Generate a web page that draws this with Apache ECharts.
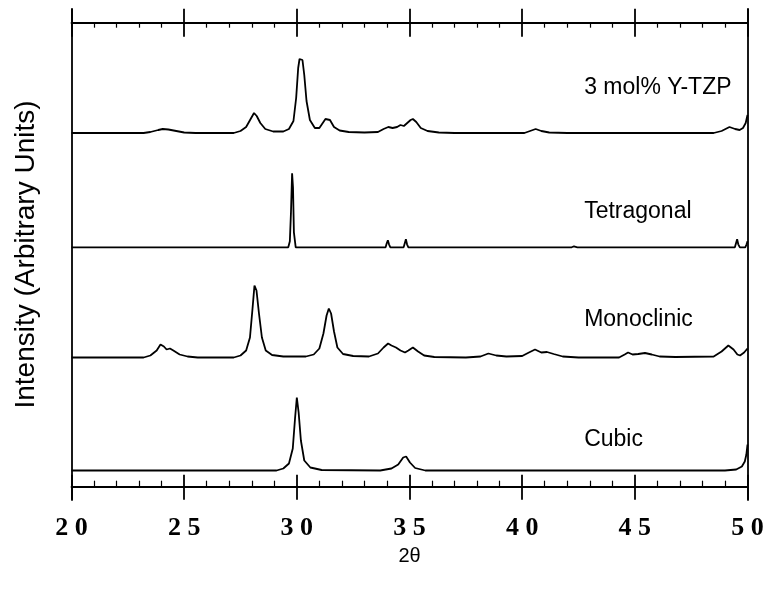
<!DOCTYPE html>
<html><head><meta charset="utf-8">
<script src="https://cdn.jsdelivr.net/npm/echarts@6/dist/echarts.min.js"></script>
<style>html,body{margin:0;padding:0;background:#fff}#c{width:767px;height:590px}</style>
</head><body><div id="c"></div>
<script>
const xMin = 20, xMax = 50, xStep = 5;
const seriesNames = ['3 mol% Y-TZP', 'Tetragonal', 'Monoclinic', 'Cubic'];
// vertical offsets (baselines) of the stacked patterns, arbitrary units
const offsets = [367, 252.7, 142.5, 29.5];
// label anchor [2theta, height above baseline]
const labelAnchors = [[42.75, 45], [42.75, 35], [42.75, 37], [42.75, 30]];

// [2theta, intensity above baseline]
const ytzp = [[20,0],[23.2,0],[23.5,1],[23.85,3],[24.05,4],[24.3,3.5],[24.65,2],[25.0,0.5],[25.5,0],[27.2,0],[27.5,2],[27.75,6],[27.95,14],[28.1,20],[28.22,17],[28.38,10],[28.6,4],[28.95,1.5],[29.4,1.5],[29.65,4],[29.85,12],[29.97,35],[30.06,65],[30.12,74],[30.18,72],[30.25,73],[30.33,58],[30.43,32],[30.58,13],[30.8,5],[31.0,5],[31.15,10],[31.27,14],[31.35,15],[31.47,13],[31.65,6],[31.9,2.5],[32.3,1],[33.0,0.5],[33.6,1],[33.85,4],[34.06,6],[34.25,5],[34.45,6],[34.6,8],[34.75,7],[34.9,10],[35.05,13],[35.15,14],[35.3,11],[35.5,5],[35.8,2],[36.3,0.5],[37,0],[40.1,0],[40.35,2],[40.6,4],[40.85,2],[41.2,0.5],[42,0],[48.5,0],[48.85,2],[49.2,6],[49.45,4],[49.65,3],[49.8,5],[49.92,10],[50,18]];
const tetragonal = [[20,0],[29.62,0],[29.69,6],[29.74,35],[29.79,74],[29.83,60],[29.87,15],[29.95,0],[33.94,0],[33.99,4],[34.04,7],[34.09,3],[34.15,0],[34.74,0],[34.79,4],[34.84,8],[34.89,3],[34.95,0],[42.2,0],[42.3,1],[42.45,0],[49.44,0],[49.49,4],[49.54,8],[49.59,3],[49.66,0],[49.9,0],[49.96,3],[50,6]];
const monoclinic = [[20,0],[23.2,0],[23.5,2],[23.78,7],[23.95,13],[24.1,11],[24.22,8],[24.37,9],[24.52,7],[24.8,3],[25.15,1],[25.6,0],[27.2,0],[27.5,2],[27.75,7],[27.92,20],[28.03,48],[28.12,72],[28.21,67],[28.32,44],[28.45,20],[28.62,7],[28.9,2.5],[29.4,1],[30.4,1],[30.75,3],[31.0,9],[31.18,24],[31.32,42],[31.42,49],[31.52,44],[31.65,26],[31.8,10],[32.05,3.5],[32.5,1.5],[33.2,1],[33.6,4],[33.85,10],[34.05,14],[34.2,12],[34.4,10],[34.6,7],[34.8,5],[34.95,7],[35.15,10],[35.38,6],[35.65,2],[36.1,0.5],[37.5,0],[38.15,1],[38.5,4],[38.85,2],[39.3,1],[40.0,1.5],[40.3,5],[40.57,8],[40.85,5],[41.1,5.5],[41.4,3.5],[41.8,1],[42.5,0],[44.3,0],[44.55,3],[44.7,5],[44.9,3],[45.15,3.5],[45.45,4.5],[45.75,3],[46.1,1],[46.8,0.5],[48.5,1],[48.85,6],[49.15,12],[49.38,8],[49.55,3],[49.67,2],[49.85,5],[50,9]];
const cubic = [[20,0],[29.1,0],[29.4,2],[29.65,7],[29.82,22],[29.92,52],[30.0,73],[30.08,58],[30.18,30],[30.33,10],[30.6,3],[31.1,0.5],[33.7,0],[34.2,2],[34.5,6],[34.72,13],[34.85,14],[35.02,8],[35.25,2.5],[35.7,0],[49.0,0],[49.5,1],[49.75,4],[49.88,9],[49.95,16],[50,26]];
const patterns = [ytzp, tetragonal, monoclinic, cubic];

const chart = echarts.init(document.getElementById('c'), null, {renderer: 'canvas'});
const black = '#000';
const lineW = 1.8;
const baseX = {type: 'value', min: xMin, max: xMax, interval: xStep, splitLine: {show: false}, axisLabel: {show: false}, axisLine: {show: false, onZero: false}};
const sans = 'Liberation Sans, Arial, sans-serif';

const option = {
  animation: false,
  backgroundColor: '#fff',
  grid: {left: 71.5, right: 19.5, top: 9, bottom: 90},
  xAxis: [
    Object.assign({}, baseX, {
      position: 'bottom', offset: -13.3,
      axisLine: {show: true, onZero: false, lineStyle: {color: black, width: lineW}},
      axisTick: {show: true, inside: false, length: 13, lineStyle: {color: black, width: lineW}},
      axisLabel: {show: true, margin: 29, color: black, fontFamily: 'Liberation Serif, Times New Roman, serif', fontWeight: 'bold', fontSize: 26,
        formatter: v => String(v).split('').join(' ')},
      name: '2θ', nameLocation: 'middle', nameGap: 55,
      nameTextStyle: {color: black, fontFamily: sans, fontSize: 20}
    }),
    Object.assign({}, baseX, {
      position: 'bottom', offset: -13.3,
      axisTick: {show: true, inside: true, length: 12, lineStyle: {color: black, width: lineW}},
      minorTick: {show: true, splitNumber: 5, length: 6, lineStyle: {color: black, width: 1.2}}
    }),
    Object.assign({}, baseX, {
      position: 'top', offset: -13.7,
      axisLine: {show: true, onZero: false, lineStyle: {color: black, width: lineW}},
      axisTick: {show: true, inside: false, length: 14, lineStyle: {color: black, width: lineW}}
    }),
    Object.assign({}, baseX, {
      position: 'top', offset: -13.7,
      axisTick: {show: true, inside: true, length: 14, lineStyle: {color: black, width: lineW}},
      minorTick: {show: true, splitNumber: 5, length: 5, lineStyle: {color: black, width: 1.2}}
    })
  ],
  yAxis: [
    {type: 'value', min: 0, max: 491, position: 'left',
      axisLine: {show: true, onZero: false, lineStyle: {color: black, width: lineW}},
      axisTick: {show: false}, axisLabel: {show: false}, splitLine: {show: false},
      name: 'Intensity (Arbitrary Units)', nameLocation: 'middle', nameGap: 31,
      nameTextStyle: {color: black, fontFamily: sans, fontSize: 28}},
    {type: 'value', min: 0, max: 491, position: 'right',
      axisLine: {show: true, onZero: false, lineStyle: {color: black, width: lineW}},
      axisTick: {show: false}, axisLabel: {show: false}, splitLine: {show: false}}
  ],
  series: patterns.map((p, i) => ({
    name: seriesNames[i], type: 'line', xAxisIndex: 0, yAxisIndex: 0,
    showSymbol: false, symbol: 'none', silent: true,
    lineStyle: {color: black, width: lineW},
    data: p.map(d => [d[0], d[1] + offsets[i]])
  }))
};
chart.setOption(option);

const texts = labelAnchors.map((a, i) => {
  const pt = chart.convertToPixel({xAxisIndex: 0, yAxisIndex: 0}, [a[0], a[1] + offsets[i]]);
  return {type: 'text', left: pt[0], top: pt[1] - 12,
    style: {text: seriesNames[i], fill: black, font: '23px ' + sans}};
});
chart.setOption({graphic: texts});
</script>
</body></html>
